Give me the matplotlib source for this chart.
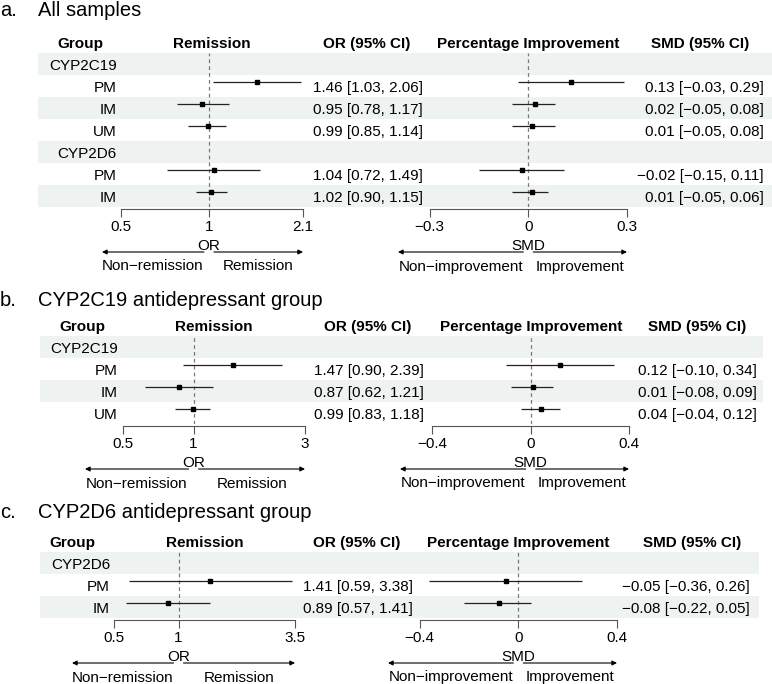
import numpy as np
import matplotlib
matplotlib.use("Agg")
import matplotlib.pyplot as plt
from matplotlib.transforms import blended_transform_factory, offset_copy

plt.rcParams['font.family'] = ['Liberation Sans', 'DejaVu Sans']

# ---------------- data ----------------
a_groups = ["CYP2C19", "PM", "IM", "UM", "CYP2D6", "PM", "IM"]
a_or = [np.nan, 1.46, 0.95, 0.99, np.nan, 1.04, 1.02]
a_or_lo = [np.nan, 1.03, 0.78, 0.85, np.nan, 0.72, 0.90]
a_or_hi = [np.nan, 2.06, 1.17, 1.14, np.nan, 1.49, 1.15]
a_smd = [np.nan, 0.13, 0.02, 0.01, np.nan, -0.02, 0.01]
a_smd_lo = [np.nan, -0.03, -0.05, -0.05, np.nan, -0.15, -0.05]
a_smd_hi = [np.nan, 0.29, 0.08, 0.08, np.nan, 0.11, 0.06]
a_or_ticks = [0.5, 1, 2.1]
a_smd_ticks = [-0.3, 0, 0.3]

b_groups = ["CYP2C19", "PM", "IM", "UM"]
b_or = [np.nan, 1.47, 0.87, 0.99]
b_or_lo = [np.nan, 0.90, 0.62, 0.83]
b_or_hi = [np.nan, 2.39, 1.21, 1.18]
b_smd = [np.nan, 0.12, 0.01, 0.04]
b_smd_lo = [np.nan, -0.10, -0.08, -0.04]
b_smd_hi = [np.nan, 0.34, 0.09, 0.12]
b_or_ticks = [0.5, 1, 3]
b_smd_ticks = [-0.4, 0, 0.4]

c_groups = ["CYP2D6", "PM", "IM"]
c_or = [np.nan, 1.41, 0.89]
c_or_lo = [np.nan, 0.59, 0.57]
c_or_hi = [np.nan, 3.38, 1.41]
c_smd = [np.nan, -0.05, -0.08]
c_smd_lo = [np.nan, -0.36, -0.22]
c_smd_hi = [np.nan, 0.26, 0.05]
c_or_ticks = [0.5, 1, 3.5]
c_smd_ticks = [-0.4, 0, 0.4]

# ---------------- layout (pixels) ----------------
W, H = 772, 684
ROW = 22
SHIFT = 0.18          # CI marks sit a little above the row centre
BAND = "#EEF2F1"
MINUS = "\u2212"

fig = plt.figure(figsize=(W / 100, H / 100), dpi=100)


def fx(x):
    return x / W


def fy(y):
    return 1 - y / H


def num(v):
    return f"{v:.2f}".replace("-", MINUS)


def ci_text(v, lo, hi):
    if np.isnan(v):
        return ""
    return f"{num(v)} [{num(lo)}, {num(hi)}]"


def forest(ax_px, xlim, vals, lo, hi, ticks, ref, log, top, n, xlabel, labs):
    bottom = top + n * ROW
    ax = fig.add_axes([fx(ax_px[0]), fy(bottom), (ax_px[1] - ax_px[0]) / W, n * ROW / H])
    ax.patch.set_visible(False)
    if log:
        ax.set_xscale('log')
    ax.set_xlim(*xlim)
    ax.set_ylim(n - 0.5, -0.5)
    rows = np.arange(n)
    ax.axvline(ref, color='#7a7a7a', lw=0.9, ls=(0, (3, 2.5)), zorder=1)
    y = rows - SHIFT
    ax.hlines(y, lo, hi, color='#222222', lw=0.9, zorder=2)
    ax.plot(vals, y, 's', color='black', ms=3.3, zorder=3)
    for s in ['top', 'right', 'left']:
        ax.spines[s].set_visible(False)
    sp = ax.spines['bottom']
    sp.set_bounds(ticks[0], ticks[-1])
    sp.set_position(('outward', 1.5))
    sp.set_color('#555555')
    sp.set_linewidth(0.8)
    ax.set_xticks(ticks, labels=[f"{t:g}".replace("-", MINUS) for t in ticks])
    ax.minorticks_off()
    ax.set_yticks([])
    ax.tick_params(axis='x', length=5.5, width=0.8, color='#555555', pad=2.5,
                   labelsize=11, labelcolor='black')

    # x label and direction arrows
    tr = blended_transform_factory(ax.transAxes, fig.transFigure)
    ref_f = ax.transAxes.inverted().transform(ax.transData.transform((ref, 0)))[0]
    gap_f = 5 / (ax_px[1] - ax_px[0])
    ax.text(ref_f, fy(bottom + 43), xlabel, transform=tr, ha='center', va='baseline', fontsize=11)
    ay = fy(bottom + 45)
    arrow = dict(arrowstyle='-|>', color='black', lw=0.8, shrinkA=0, shrinkB=0, mutation_scale=7)
    ax.annotate('', xy=(0, ay), xycoords=tr, xytext=(ref_f - gap_f, ay), textcoords=tr,
                arrowprops=arrow, annotation_clip=False)
    ax.annotate('', xy=(1, ay), xycoords=tr, xytext=(ref_f + gap_f, ay), textcoords=tr,
                arrowprops=arrow, annotation_clip=False)
    ly = fy(bottom + 63.5)
    ax.text((ref_f - gap_f) / 2, ly, labs[0], transform=tr, ha='center', va='baseline', fontsize=11)
    ax.text((1 + ref_f + gap_f) / 2, ly, labs[1], transform=tr, ha='center', va='baseline', fontsize=11)
    # column centre for the header
    p0 = ax.transData.transform((ticks[0], 0))[0]
    p1 = ax.transData.transform((ticks[-1], 0))[0]
    return (p0 + p1) / 2


def panel(letter, title, groups, orv, orlo, orhi, smd, smdlo, smdhi, or_ticks, smd_ticks, L):
    n = len(groups)
    top = L['top']
    bottom = top + n * ROW
    tab = fig.add_axes([0, fy(bottom), 1, (n + 1) * ROW / H])
    tab.set_xlim(0, W)
    tab.set_ylim(n - 0.5, -1.5)
    tab.axis('off')
    rows = np.arange(n)
    shaded = rows[rows % 2 == 0]
    tab.barh(shaded, L['band'][1] - L['band'][0], left=L['band'][0], height=1,
             color=BAND, lw=0, zorder=0)
    ttr = offset_copy(tab.transData, fig=fig, y=-6, units='dots')

    fig.text(0, fy(L['title_y']), letter + ".", fontsize=14.5, va='baseline')
    fig.text(fx(38), fy(L['title_y']), title, fontsize=14.5, va='baseline')

    for i, g in enumerate(groups):
        tab.text(L['grp_r'], i, g, ha='right', va='baseline', fontsize=11, transform=ttr)
        tab.text(L['or_r'], i, ci_text(orv[i], orlo[i], orhi[i]), ha='right', va='baseline',
                 fontsize=11, transform=ttr)
        tab.text(L['smd_r'], i, ci_text(smd[i], smdlo[i], smdhi[i]), ha='right', va='baseline',
                 fontsize=11, transform=ttr)

    or_mid = forest(L['or_ax'], L['or_xlim'], orv, orlo, orhi, or_ticks, 1, True, top, n,
                    "OR", ["Non\u2212remission", "Remission"])
    smd_mid = forest(L['smd_ax'], L['smd_xlim'], smd, smdlo, smdhi, smd_ticks, 0, False, top, n,
                     "SMD", ["Non\u2212improvement", "Improvement"])

    bold = dict(ha='center', va='baseline', fontsize=11, fontweight='bold', transform=ttr)
    tab.text(L['grp_head'], -1, "Group", **bold)
    tab.text(or_mid, -1, "Remission", **bold)
    tab.text(L['or_head'], -1, "OR (95% CI)", **bold)
    tab.text(smd_mid, -1, "Percentage Improvement", **bold)
    tab.text(L['smd_head'], -1, "SMD (95% CI)", **bold)


lay_a = dict(title_y=16, top=53, band=(38, 772), grp_r=117, grp_head=80,
             or_ax=(102, 303), or_xlim=(0.43, 2.1), or_r=423, or_head=367,
             smd_ax=(398, 627), smd_xlim=(-0.396, 0.3), smd_r=764, smd_head=700)
lay_b = dict(title_y=306, top=336, band=(40, 763), grp_r=118, grp_head=82,
             or_ax=(85, 305), or_xlim=(0.343, 3), or_r=424, or_head=368,
             smd_ax=(400, 629), smd_xlim=(-0.532, 0.4), smd_r=757, smd_head=697)
lay_c = dict(title_y=518, top=552, band=(40, 759), grp_r=110, grp_head=72,
             or_ax=(72, 295), or_xlim=(0.318, 3.5), or_r=413, or_head=357,
             smd_ax=(388, 617), smd_xlim=(-0.528, 0.4), smd_r=750, smd_head=692)

panel("a", "All samples", a_groups, a_or, a_or_lo, a_or_hi, a_smd, a_smd_lo, a_smd_hi,
      a_or_ticks, a_smd_ticks, lay_a)
panel("b", "CYP2C19 antidepressant group", b_groups, b_or, b_or_lo, b_or_hi, b_smd, b_smd_lo,
      b_smd_hi, b_or_ticks, b_smd_ticks, lay_b)
panel("c", "CYP2D6 antidepressant group", c_groups, c_or, c_or_lo, c_or_hi, c_smd, c_smd_lo,
      c_smd_hi, c_or_ticks, c_smd_ticks, lay_c)

fig.savefig("out.png", dpi=100)
